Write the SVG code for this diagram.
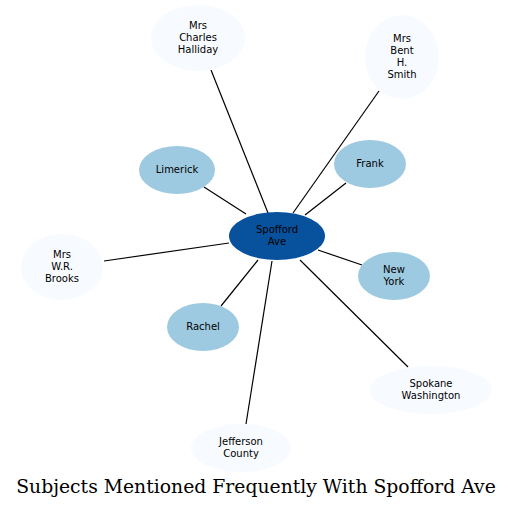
<svg xmlns="http://www.w3.org/2000/svg" width="513" height="509" viewBox="0 0 513 509">
<style>
.t{font-family:"DejaVu Sans",sans-serif;font-size:10px;fill:#000;text-anchor:middle}
.pale{fill:#f7fbff}
.mid{fill:#9ecae1}
.dark{fill:#08519c}
.e{stroke:#000;stroke-width:1.2;fill:none}
.title{font-family:"DejaVu Serif",serif;font-size:18.8px;fill:#000;text-anchor:middle}
</style>
<rect width="513" height="509" fill="#fff"/>
<g id="connectors">
<line class="e" x1="211" y1="70" x2="268" y2="213"/>
<line class="e" x1="379" y1="91" x2="293" y2="213"/>
<line class="e" x1="204" y1="187" x2="246" y2="214"/>
<line class="e" x1="346" y1="183" x2="305" y2="215"/>
<line class="e" x1="104" y1="261" x2="229" y2="243"/>
<line class="e" x1="362" y1="265" x2="318" y2="250"/>
<line class="e" x1="221" y1="306" x2="258" y2="260"/>
<line class="e" x1="408" y1="367" x2="300" y2="260"/>
<line class="e" x1="246" y1="424" x2="272" y2="261"/>
</g>
<g id="spofford_ave"><ellipse class="dark" cx="277" cy="236" rx="48" ry="24"/><text class="t" x="277" y="233">Spofford</text><text class="t" x="277" y="245">Ave</text></g>
<g id="mrs_charles_halliday"><ellipse class="pale" cx="198" cy="38" rx="47" ry="33"/><text class="t" x="198" y="29">Mrs</text><text class="t" x="198" y="41">Charles</text><text class="t" x="198" y="53">Halliday</text></g>
<g id="mrs_bent_h_smith"><ellipse class="pale" cx="402" cy="57" rx="37" ry="42"/><text class="t" x="402" y="42">Mrs</text><text class="t" x="402" y="54">Bent</text><text class="t" x="402" y="66">H.</text><text class="t" x="402" y="78">Smith</text></g>
<g id="limerick"><ellipse class="mid" cx="177" cy="170" rx="38" ry="24"/><text class="t" x="177" y="173">Limerick</text></g>
<g id="frank"><ellipse class="mid" cx="370" cy="164" rx="36" ry="24"/><text class="t" x="370" y="167">Frank</text></g>
<g id="mrs_wr_brooks"><ellipse class="pale" cx="62" cy="267" rx="41" ry="33"/><text class="t" x="62" y="258">Mrs</text><text class="t" x="62" y="270">W.R.</text><text class="t" x="62" y="282">Brooks</text></g>
<g id="new_york"><ellipse class="mid" cx="394" cy="276" rx="36" ry="24"/><text class="t" x="394" y="273">New</text><text class="t" x="394" y="285">York</text></g>
<g id="rachel"><ellipse class="mid" cx="203" cy="327" rx="36" ry="24"/><text class="t" x="203" y="330">Rachel</text></g>
<g id="spokane_washington"><ellipse class="pale" cx="431" cy="390" rx="61" ry="24"/><text class="t" x="431" y="387">Spokane</text><text class="t" x="431" y="399">Washington</text></g>
<g id="jefferson_county"><ellipse class="pale" cx="241" cy="448" rx="50" ry="24"/><text class="t" x="241" y="445">Jefferson</text><text class="t" x="241" y="457">County</text></g>
<text class="title" x="256" y="493">Subjects Mentioned Frequently With Spofford Ave</text>
</svg>
